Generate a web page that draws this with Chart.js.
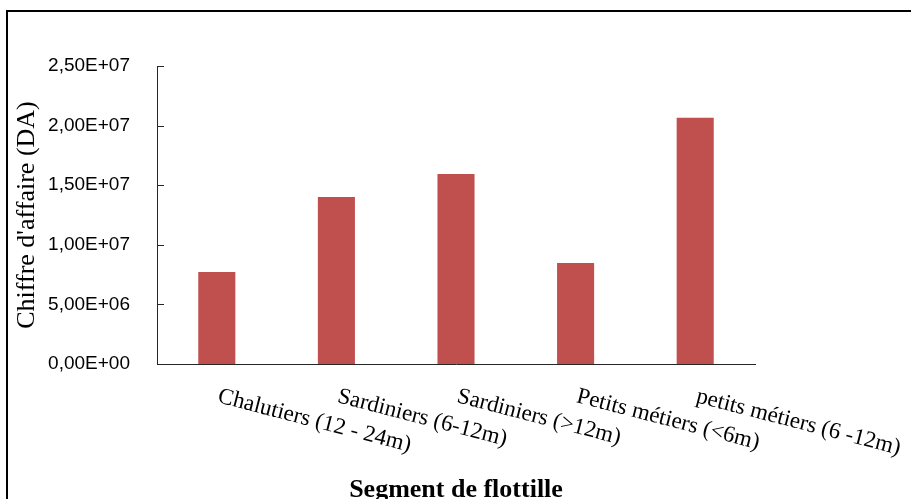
<!DOCTYPE html>
<html>
<head>
<meta charset="utf-8">
<script src="https://cdn.jsdelivr.net/npm/chart.js@4.4.0/dist/chart.umd.min.js"></script>
<style>
  html, body { margin: 0; padding: 0; background: #ffffff; }
  #wrap { position: relative; width: 911px; height: 499px; }
  canvas { display: block; }
</style>
</head>
<body>
<div id="wrap"><canvas id="c" width="911" height="499"></canvas></div>
<script>
// ---- Data ----
const categories = ['Chalutiers (12 - 24m)', 'Sardiniers (6-12m)', 'Sardiniers (>12m)', 'Petits métiers (<6m)', 'petits métiers (6 -12m)'];
const revenue = [7.72e6, 1.402e7, 1.595e7, 8.48e6, 2.065e7];
const yTickValues = [0, 5e6, 1e7, 1.5e7, 2e7, 2.5e7];
const yTickLabels = ['0,00E+00', '5,00E+06', '1,00E+07', '1,50E+07', '2,00E+07', '2,50E+07'];
const yTitle = "Chiffre d'affaire (DA)";
const xTitle = 'Segment de flottille';

const AXIS_COLOR = '#262626';

const decorPlugin = {
  id: 'decor',
  beforeDraw(chart) {
    const ctx = chart.ctx;
    ctx.save();
    ctx.fillStyle = '#ffffff';
    ctx.fillRect(0, 0, chart.width, chart.height);
    // outer frame (left and top visible)
    ctx.strokeStyle = '#000000';
    ctx.lineWidth = 2;
    ctx.strokeRect(7, 11, chart.width + 20, chart.height + 20);
    ctx.restore();
  },
  afterDraw(chart) {
    const ctx = chart.ctx;
    const xs = chart.scales.x;
    const ys = chart.scales.y;
    const area = chart.chartArea;
    ctx.save();
    // inside tick marks on y axis
    ctx.strokeStyle = AXIS_COLOR;
    ctx.lineWidth = 1;
    ys.ticks.forEach(t => {
      const py = Math.round(ys.getPixelForValue(t.value)) + 0.5;
      ctx.beginPath();
      ctx.moveTo(area.left, py);
      ctx.lineTo(area.left + 7, py);
      ctx.stroke();
    });
    // rotated category labels (clockwise, starting at each category centre)
    ctx.fillStyle = '#000000';
    ctx.font = '23px "Liberation Serif", "Times New Roman", serif';
    ctx.textAlign = 'left';
    ctx.textBaseline = 'alphabetic';
    const ang = 14.5 * Math.PI / 180;
    categories.forEach((lab, i) => {
      const px = xs.getPixelForValue(i);
      ctx.save();
      ctx.translate(px, area.bottom + 38);
      ctx.rotate(ang);
      ctx.fillText(lab, 0, 0);
      ctx.restore();
    });
    // x axis title
    ctx.font = 'bold 26px "Liberation Serif", "Times New Roman", serif';
    ctx.textAlign = 'center';
    ctx.fillText(xTitle, (area.left + area.right) / 2, 497);
    ctx.restore();
  }
};

new Chart(document.getElementById('c'), {
  type: 'bar',
  data: {
    labels: categories,
    datasets: [{
      data: revenue,
      backgroundColor: '#C0504D',
      borderWidth: 0,
      barPercentage: 1,
      categoryPercentage: 0.31
    }]
  },
  options: {
    responsive: false,
    animation: false,
    devicePixelRatio: 1,
    layout: { padding: { left: 0, top: 66, right: 156, bottom: 0 } },
    plugins: { legend: { display: false }, tooltip: { enabled: false } },
    scales: {
      x: {
        grid: { display: false, drawTicks: false },
        border: { display: true, color: AXIS_COLOR, width: 1 },
        ticks: { display: false },
        afterFit(scale) { scale.height = 135; }
      },
      y: {
        min: 0,
        max: 2.5e7,
        afterBuildTicks(scale) { scale.ticks = yTickValues.map(v => ({ value: v })); },
        grid: { display: false, drawTicks: false },
        border: { display: true, color: AXIS_COLOR, width: 1 },
        ticks: {
          padding: 27,
          color: '#000000',
          font: { family: '"Liberation Sans", Arial, sans-serif', size: 19 },
          callback(value, index) { return yTickLabels[index]; }
        },
        title: {
          display: true,
          text: yTitle,
          color: '#000000',
          font: { family: '"Liberation Serif", "Times New Roman", serif', size: 26, lineHeight: 1.2 },
          padding: { top: 12, bottom: 0 }
        },
        afterFit(scale) { scale.width = 157; }
      }
    }
  },
  plugins: [decorPlugin]
});
</script>
</body>
</html>
